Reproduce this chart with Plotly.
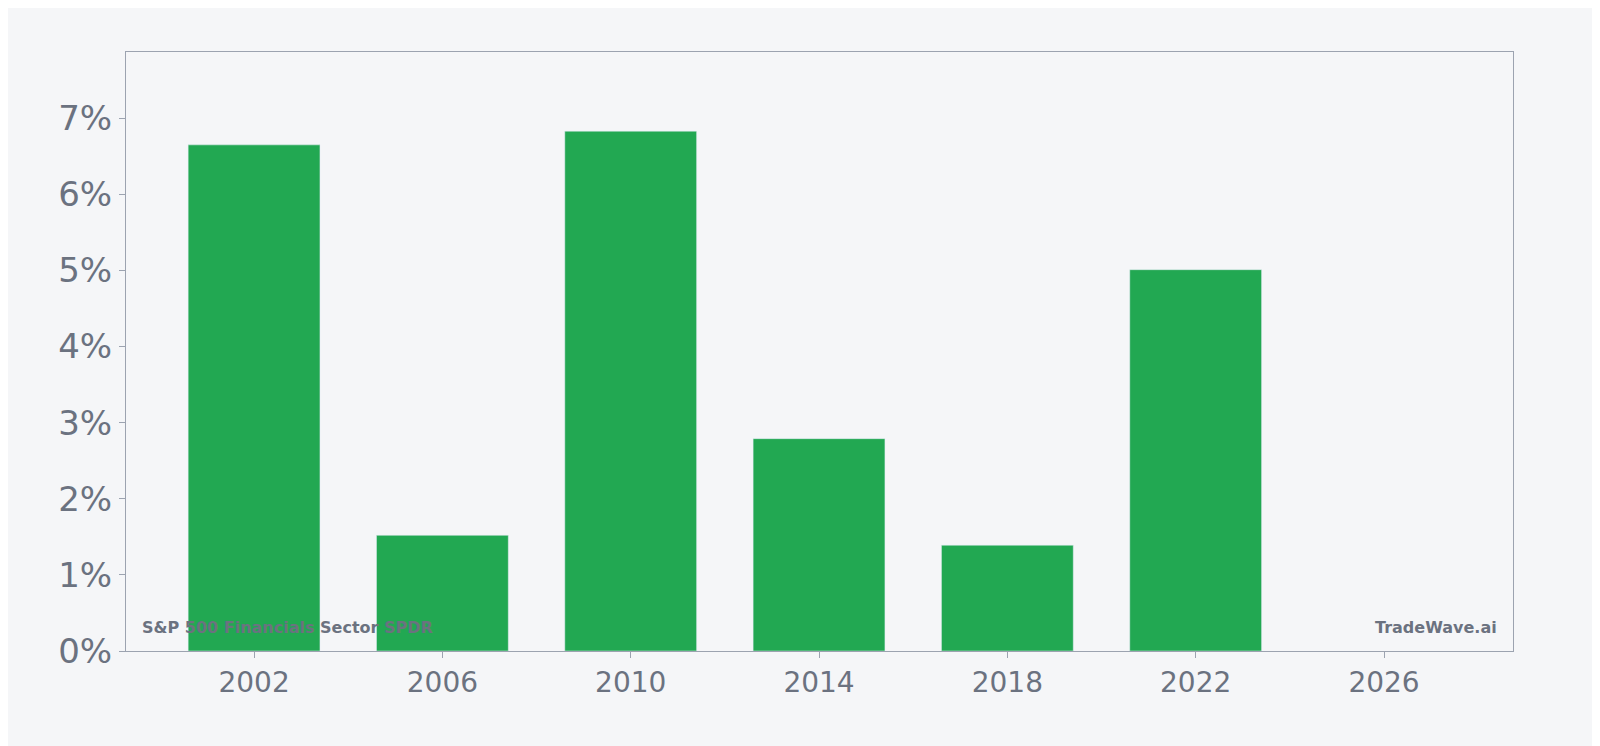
import plotly.graph_objects as go

years = [2002, 2006, 2010, 2014, 2018, 2022]
values = [6.65, 1.52, 6.83, 2.79, 1.39, 5.01]
x_ticks = [2002, 2006, 2010, 2014, 2018, 2022, 2026]
y_ticks = [0, 1, 2, 3, 4, 5, 6, 7]

fig = go.Figure(go.Bar(x=years, y=values, width=2.8, marker_color="#22a852"))
fig.update_layout(
    width=1600, height=746, paper_bgcolor="#f5f6f8", plot_bgcolor="#f5f6f8",
    margin=dict(l=118, r=95, t=44, b=103), showlegend=False,
    font=dict(family="DejaVu Sans", color="#6b7280"),
)
fig.update_xaxes(range=[1999.28, 2028.74], tickvals=x_ticks, tickfont_size=28,
                 showgrid=False, showline=True, linecolor="#9ca3b0", mirror=True,
                 ticks="outside", ticklen=6, tickcolor="#9ca3b0", zeroline=False)
fig.update_yaxes(range=[0, 7.87], tickvals=y_ticks, ticktext=[f"{v}%" for v in y_ticks],
                 tickfont_size=34, showgrid=False, showline=True, linecolor="#9ca3b0",
                 mirror=True, ticks="outside", ticklen=6, tickcolor="#9ca3b0", zeroline=False)
fig.add_annotation(xref="paper", yref="paper", x=0.01, y=0.02, xanchor="left", yanchor="bottom",
                   text="<b>S&P 500 Financials Sector SPDR</b>", showarrow=False,
                   font=dict(size=16, color="#6b7280"))
fig.add_annotation(xref="paper", yref="paper", x=0.99, y=0.02, xanchor="right", yanchor="bottom",
                   text="<b>TradeWave.ai</b>", showarrow=False, font=dict(size=16, color="#6b7280"))
fig.write_html("out.html")
